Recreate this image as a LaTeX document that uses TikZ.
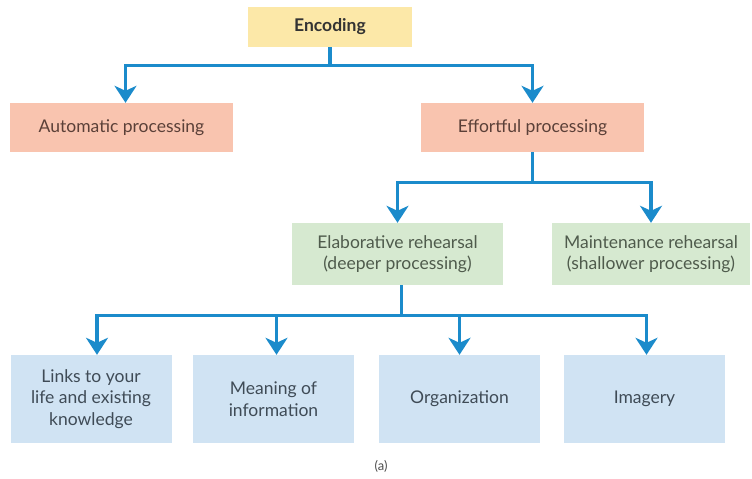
\documentclass[tikz,border=0pt]{standalone}
\usepackage{fontspec}
\setmainfont{Lato}
\usetikzlibrary{arrows.meta, positioning}
\definecolor{encfill}{HTML}{FCE8A8}
\definecolor{procfill}{HTML}{F9C4AF}
\definecolor{rehfill}{HTML}{D6E9D0}
\definecolor{typefill}{HTML}{D0E3F3}
\definecolor{linkblue}{HTML}{1B8BCB}
\definecolor{proctext}{HTML}{5B4038}
\definecolor{rehtext}{HTML}{4F5B4C}
\definecolor{typetext}{HTML}{3F4B56}
\tikzstyle{box} = [rectangle, align=center, inner sep=0pt, font=\fontsize{17.5}{21.5}\selectfont]
\tikzstyle{enc} = [box, fill=encfill, text=black!80, minimum width=164pt, minimum height=40pt, font=\fontsize{17.5}{21.5}\selectfont\bfseries]
\tikzstyle{proc} = [box, fill=procfill, text=proctext, minimum width=223pt, minimum height=49pt]
\tikzstyle{reh} = [box, fill=rehfill, text=rehtext, minimum height=62pt]
\tikzstyle{kind} = [box, fill=typefill, text=typetext, minimum width=161pt, minimum height=88pt]
\tikzstyle{link} = [line width=3.2pt, draw=linkblue]
\tikzstyle{arrow} = [link, -{Stealth[length=17pt, width=22pt, inset=5pt]}]

\begin{document}
\begin{tikzpicture}[x=1pt, y=-1pt]
	\useasboundingbox (0,0) rectangle (752,479);
	\node[enc] (encoding) at (330,27) {Encoding};
	\node[proc] (auto) at (121.5,127.5) {Automatic processing};
	\node[proc] (effort) at (532.5,127.5) {Effortful processing};
	\node[reh, minimum width=211pt] (elab) at (397.5,254) {Elaborative rehearsal\\(deeper processing)};
	\node[reh, minimum width=198pt] (maint) at (651,254) {Maintenance rehearsal\\(shallower processing)};
	\node[kind] (links) at (91,399) {Links to your\\life and existing\\knowledge};
	\node[kind] (meaning) at (273.5,399) {Meaning of\\information};
	\node[kind] (org) at (459.5,399) {Organization};
	\node[kind] (imagery) at (644.5,399) {Imagery};
	\node[text=black!70, font=\fontsize{13}{15}\selectfont] (caption) at (381,466) {(a)};

	\coordinate (j1) at ([yshift=-18pt]encoding.south);
	\coordinate (j2) at ([yshift=-30pt]effort.south);
	\coordinate (j3) at ([xshift=4pt, yshift=-30pt]elab.south);
	\draw[link] (encoding.south) -- (j1);
	\draw[arrow] (j1) -| ([xshift=4pt]auto.north);
	\draw[arrow] (j1) -| (effort.north);
	\draw[link] (effort.south) -- (j2);
	\draw[arrow] (j2) -| (elab.north);
	\draw[arrow] (j2) -| (maint.north);
	\draw[link] ([xshift=4pt]elab.south) -- (j3);
	\draw[arrow] (j3) -| ([xshift=6pt]links.north);
	\draw[arrow] (j3) -| ([xshift=3pt]meaning.north);
	\draw[arrow] (j3) -| (org.north);
	\draw[arrow] (j3) -| ([xshift=2pt]imagery.north);
\end{tikzpicture}
\end{document}
